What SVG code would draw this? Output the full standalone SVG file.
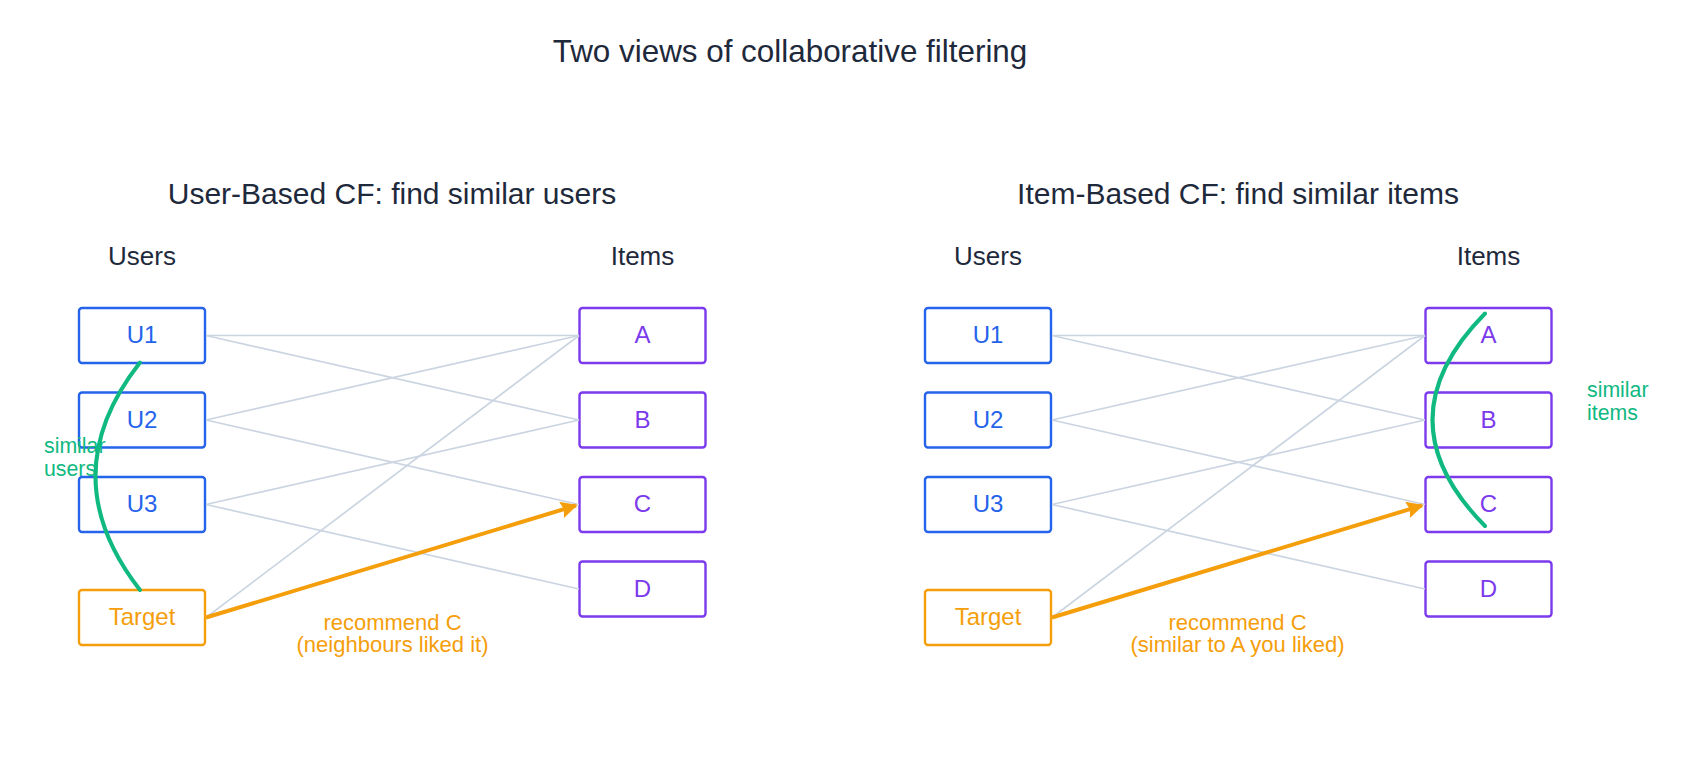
<svg xmlns="http://www.w3.org/2000/svg" width="1690" height="763" viewBox="0 0 1690 763">
<style>
text{font-family:"Liberation Sans",Arial,sans-serif}
.title{font-size:31.4px;fill:#1e293b;text-anchor:middle}
.sub{font-size:30px;fill:#1e293b;text-anchor:middle}
.col{font-size:26px;fill:#1e293b;text-anchor:middle}
.user rect{fill:#fff;stroke:#2563eb;stroke-width:2.4}
.user text{fill:#2563eb;font-size:24px;text-anchor:middle}
.item rect{fill:#fff;stroke:#7c3aed;stroke-width:2.4}
.item text{fill:#7c3aed;font-size:24px;text-anchor:middle}
.target rect{fill:#fff;stroke:#f59e0b;stroke-width:2.4}
.target text{fill:#f59e0b;font-size:24px;text-anchor:middle}
.edge{stroke:#cbd5e1;stroke-width:1.7;fill:none}
.rec{stroke:#f59e0b;stroke-width:4;fill:none}
.sim{stroke:#10b981;stroke-width:4;fill:none;stroke-linecap:round}
.simlbl{fill:#10b981;font-size:21.3px}
.reclbl{fill:#f59e0b;font-size:22px;text-anchor:middle}
</style>
<defs>
<marker id="arr" viewBox="0 0 10 10" refX="9" refY="5" markerWidth="4.8" markerHeight="4.2" orient="auto" markerUnits="strokeWidth">
<path d="M0,0 L10,5 L0,10 L1.5,5 z" fill="#f59e0b"/>
</marker>
</defs>
<rect width="1690" height="763" fill="#fff"/>
<text class="title" x="790" y="62">Two views of collaborative filtering</text>

<g id="panel-left">
<text class="sub" x="392" y="204">User-Based CF: find similar users</text>
<text class="col" x="142" y="265">Users</text>
<text class="col" x="642.5" y="265">Items</text>
</g>
<g id="panel-right">
<text class="sub" x="1238" y="204">Item-Based CF: find similar items</text>
<text class="col" x="988" y="265">Users</text>
<text class="col" x="1488.5" y="265">Items</text>
</g>

<g id="L-U1" class="user"><rect x="79" y="308" width="126" height="55" rx="3"/><text x="142" y="343">U1</text></g>
<g id="L-U2" class="user"><rect x="79" y="392.5" width="126" height="55" rx="3"/><text x="142" y="427.5">U2</text></g>
<g id="L-U3" class="user"><rect x="79" y="477" width="126" height="55" rx="3"/><text x="142" y="512">U3</text></g>
<g id="L-Target" class="target"><rect x="79" y="590" width="126" height="55" rx="3"/><text x="142" y="625">Target</text></g>
<g id="L-A" class="item"><rect x="579.5" y="308" width="126" height="55" rx="3"/><text x="642.5" y="343">A</text></g>
<g id="L-B" class="item"><rect x="579.5" y="392.5" width="126" height="55" rx="3"/><text x="642.5" y="427.5">B</text></g>
<g id="L-C" class="item"><rect x="579.5" y="477" width="126" height="55" rx="3"/><text x="642.5" y="512">C</text></g>
<g id="L-D" class="item"><rect x="579.5" y="561.5" width="126" height="55" rx="3"/><text x="642.5" y="596.5">D</text></g>

<g id="R-U1" class="user"><rect x="925" y="308" width="126" height="55" rx="3"/><text x="988" y="343">U1</text></g>
<g id="R-U2" class="user"><rect x="925" y="392.5" width="126" height="55" rx="3"/><text x="988" y="427.5">U2</text></g>
<g id="R-U3" class="user"><rect x="925" y="477" width="126" height="55" rx="3"/><text x="988" y="512">U3</text></g>
<g id="R-Target" class="target"><rect x="925" y="590" width="126" height="55" rx="3"/><text x="988" y="625">Target</text></g>
<g id="R-A" class="item"><rect x="1425.5" y="308" width="126" height="55" rx="3"/><text x="1488.5" y="343">A</text></g>
<g id="R-B" class="item"><rect x="1425.5" y="392.5" width="126" height="55" rx="3"/><text x="1488.5" y="427.5">B</text></g>
<g id="R-C" class="item"><rect x="1425.5" y="477" width="126" height="55" rx="3"/><text x="1488.5" y="512">C</text></g>
<g id="R-D" class="item"><rect x="1425.5" y="561.5" width="126" height="55" rx="3"/><text x="1488.5" y="596.5">D</text></g>

<g id="connectors">
<line class="edge" x1="206" y1="335.5" x2="579" y2="335.5"/>
<line class="edge" x1="206" y1="335.5" x2="579" y2="420"/>
<line class="edge" x1="206" y1="420" x2="579" y2="335.5"/>
<line class="edge" x1="206" y1="420" x2="579" y2="504.5"/>
<line class="edge" x1="206" y1="504.5" x2="579" y2="420"/>
<line class="edge" x1="206" y1="504.5" x2="579" y2="589"/>
<line class="edge" x1="206" y1="617.5" x2="579" y2="335.5"/>
<line class="rec" x1="206" y1="617.5" x2="576" y2="505.5" marker-end="url(#arr)"/>
<path class="sim" d="M140,362.5 Q51,476 140,590"/>

<line class="edge" x1="1052" y1="335.5" x2="1425" y2="335.5"/>
<line class="edge" x1="1052" y1="335.5" x2="1425" y2="420"/>
<line class="edge" x1="1052" y1="420" x2="1425" y2="335.5"/>
<line class="edge" x1="1052" y1="420" x2="1425" y2="504.5"/>
<line class="edge" x1="1052" y1="504.5" x2="1425" y2="420"/>
<line class="edge" x1="1052" y1="504.5" x2="1425" y2="589"/>
<line class="edge" x1="1052" y1="617.5" x2="1425" y2="335.5"/>
<line class="rec" x1="1052" y1="617.5" x2="1422" y2="505.5" marker-end="url(#arr)"/>
<path class="sim" d="M1485,313.5 Q1380,420 1485,526"/>
</g>

<g id="labels">
<text class="simlbl" x="44" y="453">similar</text>
<text class="simlbl" x="44" y="476">users</text>
<text class="simlbl" x="1587" y="397">similar</text>
<text class="simlbl" x="1587" y="419.5">items</text>
<text class="reclbl" x="392.5" y="630">recommend C</text>
<text class="reclbl" x="392.5" y="652">(neighbours liked it)</text>
<text class="reclbl" x="1237.5" y="630">recommend C</text>
<text class="reclbl" x="1237.5" y="652">(similar to A you liked)</text>
</g>
</svg>
